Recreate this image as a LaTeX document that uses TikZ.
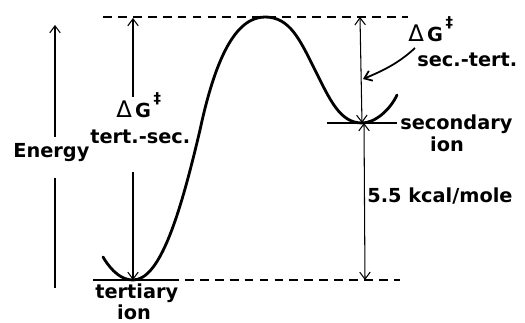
\documentclass[tikz,border=0pt]{standalone}
\usepackage{fontspec}
\setmainfont{DejaVu Sans}
\usetikzlibrary{arrows.meta}
\tikzset{
  lbl/.style={font=\bfseries\fontsize{11}{13}\selectfont, inner sep=0pt, anchor=base west},
  lblc/.style={font=\bfseries\fontsize{11}{13}\selectfont, inner sep=0pt, anchor=base},
  thinarrow/.style={line width=0.6pt, -{Straight Barb[length=4pt,width=6pt]}},
  thinboth/.style={line width=0.6pt, {Straight Barb[length=4pt,width=6pt]}-{Straight Barb[length=4pt,width=6pt]}},
  thinline/.style={line width=0.6pt},
  levelline/.style={line width=1.1pt},
  dashline/.style={line width=0.6pt, dash pattern=on 5pt off 3.5pt},
  energycurve/.style={line width=1.6pt, line cap=round},
}
\newcommand{\mydelta}{{\mdseries\fontsize{13}{13}\selectfont Δ}\kern1.8pt}
\newcommand{\mydag}{\kern1.5pt\raisebox{8pt}{\fontsize{8.5}{10}\selectfont ‡}}
\begin{document}
\begin{tikzpicture}[x=0.02cm,y=-0.02cm]
\useasboundingbox (0,0) rectangle (525,323);

% reference levels
\coordinate (topL) at (103,17);
\coordinate (topR) at (408,17);
\coordinate (basL) at (93,280);
\coordinate (basM) at (170,280);
\coordinate (basR) at (400,280);
\coordinate (secL) at (327,123);
\coordinate (secR) at (397,123);

\draw[dashline] (topL) -- (topR);
\draw[levelline] (basL) -- (basM);
\draw[dashline] (basM) -- (basR);
\draw[levelline] (secL) -- (secR);

% energy curve
\coordinate (c0) at (103,257);
\coordinate (tmin) at (133,280);
\coordinate (c2) at (200,130);
\coordinate (peak) at (265,17);
\coordinate (c4) at (315,70);
\coordinate (smin) at (362,123);
\coordinate (c6) at (397,95);
\draw[energycurve] (c0) .. controls (112,272) and (122,280) .. (tmin)
  .. controls (160,280) and (180,215) .. (c2)
  .. controls (215,60) and (235,17) .. (peak)
  .. controls (290,17) and (300,40) .. (c4)
  .. controls (330,100) and (340,123) .. (smin)
  .. controls (375,123) and (390,110) .. (c6);

% Energy axis
\coordinate (eTop) at (55,25);
\coordinate (eUp) at (55,137);
\coordinate (eLo) at (55,178);
\coordinate (eBot) at (55,288);
\draw[thinarrow] (eUp) -- (eTop);
\draw[thinline] (eLo) -- (eBot);
\node[lbl] (energy) at (13,158) {Energy};

% left Delta G arrow
\coordinate (lTop) at (133,18);
\coordinate (lUp) at (133,97);
\coordinate (lLo) at (133,172);
\coordinate (lBot) at (133,280);
\draw[thinarrow] (lUp) -- (lTop);
\draw[thinarrow] (lLo) -- (lBot);
\node[lbl] (dgL) at (116,118) {\mydelta G\mydag};
\node[lbl] (tsL) at (90,144) {tert.-sec.};

% right arrows
\coordinate (rTop) at (360,17);
\coordinate (rMid1) at (362,123);
\coordinate (rMid2) at (364,123);
\coordinate (rBot) at (365,280);
\draw[thinboth] (rTop) -- (rMid1);
\draw[thinboth] (rMid2) -- (rBot);

\node[lbl] (dgR) at (408,42) {\mydelta G\mydag};
\node[lbl] (stR) at (417,67) {sec.-tert.};
\coordinate (pS) at (415,48);
\coordinate (pE) at (363,79);
\draw[line width=1pt, -{Straight Barb[length=4pt,width=6pt]}] (pS) .. controls (400,62) and (385,70) .. (pE);

\node[lbl] (secTxt) at (400,130) {secondary};
\node[lblc] (secIon) at (447,152) {ion};
\node[lbl] (kcal) at (367,203) {5.5 kcal/mole};

\node[lbl] (terTxt) at (95,299) {tertiary};
\node[lblc] (terIon) at (134,320) {ion};
\end{tikzpicture}
\end{document}
